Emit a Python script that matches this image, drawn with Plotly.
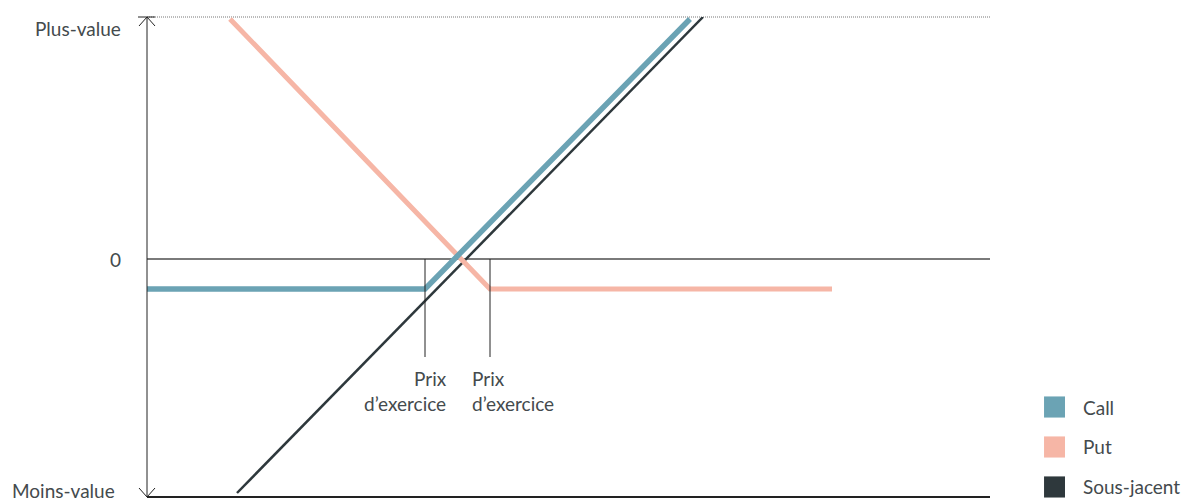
import plotly.graph_objects as go

# payoff lines (x = underlying price, y = gain / loss, arbitrary units)
call_x = [0, 27.8, 54.3]
call_y = [-3, -3, 24]
put_x = [8.3, 34.3, 68.5]
put_y = [24, -3, -3]
under_x = [9, 55.6]
under_y = [-23.4, 24.2]

strikes = [27.8, 34.3]
strike_low = -9.8
legend_names = ["Call", "Put", "Sous-jacent"]
colors = ["#6ba3b4", "#f6b6a6", "#2e383c"]
y_labels = ["Plus-value", "0", "Moins-value"]

x_range = [0, 84.3]
y_range = [-23.8, 24.2]
font = "Lato, 'Open Sans', sans-serif"
text_col = "#444a4d"
fsize = 19

fig = go.Figure()

# zero line and top dotted line
fig.add_shape(type="line", x0=x_range[0], x1=x_range[1], y0=0, y1=0,
              line=dict(color="#7a7a7a", width=2), layer="below")
fig.add_shape(type="line", xref="paper", yref="paper", x0=0, x1=1, y0=1, y1=1,
              line=dict(color="#777", width=1, dash="1px,1px"), layer="below")
fig.add_shape(type="line", xref="paper", yref="paper", x0=0, x1=1, y0=0, y1=0,
              line=dict(color="#222", width=2), layer="below")

# strike markers
for k in strikes:
    fig.add_shape(type="line", x0=k, x1=k, y0=0, y1=strike_low,
                  line=dict(color="#222", width=1))

fig.add_trace(go.Scatter(x=under_x, y=under_y, mode="lines",
                         line=dict(color=colors[2], width=2.5), showlegend=False))
fig.add_trace(go.Scatter(x=put_x, y=put_y, mode="lines",
                         line=dict(color=colors[1], width=5), showlegend=False))
fig.add_trace(go.Scatter(x=call_x, y=call_y, mode="lines",
                         line=dict(color=colors[0], width=5.5), showlegend=False))

# y axis with arrows at both ends
fig.add_shape(type="line", xref="paper", yref="paper", x0=0, x1=0, y0=0, y1=1,
              line=dict(color="#222", width=1))
for yv, d in [(1, -1), (0, 1)]:
    for dx in (-8, 8):
        fig.add_shape(type="line", xref="paper", yref="paper",
                      xsizemode="pixel", ysizemode="pixel",
                      xanchor=0, yanchor=yv, x0=0, x1=dx, y0=0, y1=d * 9,
                      line=dict(color="#222", width=1))
fig.add_shape(type="line", xref="paper", yref="paper",
              xsizemode="pixel", ysizemode="pixel",
              xanchor=0, yanchor=1, x0=-9, x1=8, y0=0, y1=0,
              line=dict(color="#222", width=1))

# strike labels
fig.add_annotation(x=30.2, y=-10.6, text="Prix<br>d\u2019exercice", showarrow=False,
                   xanchor="right", yanchor="top", align="right",
                   font=dict(family=font, size=fsize, color=text_col))
fig.add_annotation(x=32.3, y=-10.6, text="Prix<br>d\u2019exercice", showarrow=False,
                   xanchor="left", yanchor="top", align="left",
                   font=dict(family=font, size=fsize, color=text_col))

# y labels
for lab, yp, xs in zip(y_labels, [-11, -242, -473], [-24, -24, -30]):
    fig.add_annotation(xref="paper", yref="paper", x=0, y=1, xshift=xs, yshift=yp,
                       text=lab, showarrow=False, xanchor="right", yanchor="middle",
                       font=dict(family=font, size=fsize, color=text_col))

# custom legend (square swatches)
for i, (name, c) in enumerate(zip(legend_names, colors)):
    yc = 0.1875 - i * 0.0833
    fig.add_shape(type="rect", xref="paper", yref="paper",
                  x0=1.0641, x1=1.0890, y0=yc - 0.022, y1=yc + 0.022,
                  fillcolor=c, line=dict(width=0))
    fig.add_annotation(xref="paper", yref="paper", x=1.108, y=yc, text=name,
                       showarrow=False, xanchor="left", yanchor="middle",
                       font=dict(family=font, size=fsize, color=text_col))

fig.update_xaxes(range=x_range, visible=False, fixedrange=True)
fig.update_yaxes(range=y_range, visible=False, fixedrange=True)
fig.update_layout(width=1189, height=498, plot_bgcolor="white", paper_bgcolor="white",
                  margin=dict(l=139, r=207, t=9, b=9), showlegend=False)

fig.write_html("out.html")
